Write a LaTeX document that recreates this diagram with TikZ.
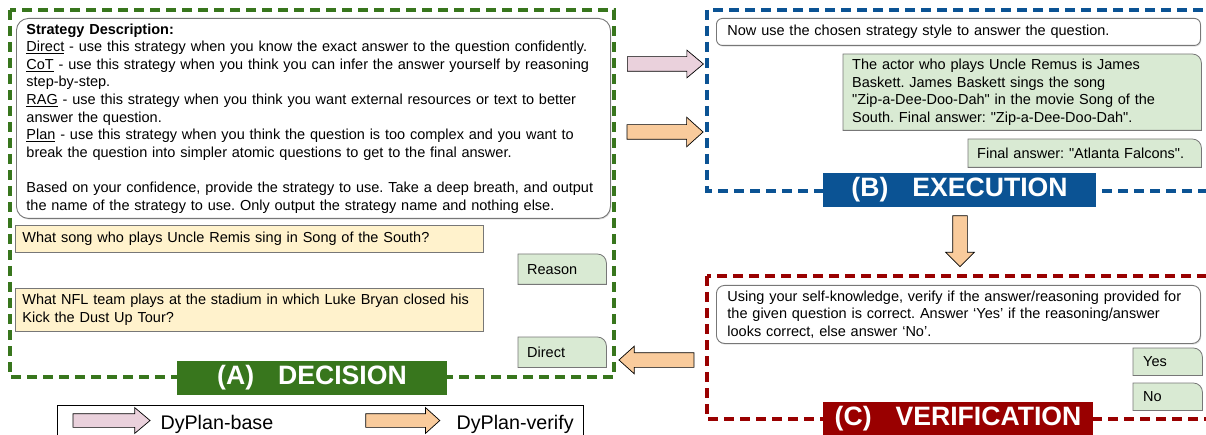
\documentclass[tikz,border=0pt]{standalone}
\usepackage{fontspec}
\setmainfont{Liberation Sans}
\usetikzlibrary{shapes.arrows,shadows,backgrounds}

\definecolor{decgreen}{HTML}{38761D}
\definecolor{exeblue}{HTML}{0B5394}
\definecolor{verred}{HTML}{990000}
\definecolor{qyellow}{HTML}{FFF2CC}
\definecolor{replygreen}{HTML}{D9EAD3}
\definecolor{basepink}{HTML}{EAD1DC}
\definecolor{verifyorange}{HTML}{F9CB9C}
\definecolor{boxgray}{HTML}{777777}

\frenchspacing
\newcommand{\bodyfont}{\fontsize{14.5}{17.6}\selectfont}
\newcommand{\stagegap}{\hspace{24pt}}
\newcommand{\dq}{\textquotedbl}
% chat bubble: only the top right corner is round
\newcommand{\bubble}[1]{%
	\draw[replyfill] (#1.south west) -- (#1.north west) -- ([xshift=-9pt]#1.north east)
		arc[start angle=90, end angle=0, radius=9pt] -- (#1.south east) -- cycle;}

\tikzset{
	stageframe/.style={dash pattern=on 10pt off 6pt, line width=3.3pt},
	stagelabel/.style={fill=#1, text=white, font=\fontsize{26.6}{30}\selectfont\bfseries,
		minimum height=34pt, inner sep=0pt},
	promptbox/.style={draw=boxgray, fill=white, rounded corners=#1, line width=0.9pt,
		drop shadow={shadow xshift=0.8pt, shadow yshift=-1.2pt, opacity=0.25},
		anchor=north west, align=left, font=\bodyfont, inner ysep=0pt, inner xsep=11pt},
	questionbox/.style={draw=boxgray, fill=qyellow, line width=0.8pt, anchor=north west,
		align=left, font=\bodyfont, inner ysep=0pt, inner xsep=7pt},
	replybox/.style={anchor=north west, align=left, font=\bodyfont, inner ysep=0pt, inner xsep=9pt},
	replyfill/.style={draw=boxgray, fill=replygreen, line width=0.8pt},
	blockarrow/.style={single arrow, draw=black, line width=0.7pt, inner xsep=0pt, inner ysep=7pt,
		single arrow head indent=0pt},
	basearrow/.style={blockarrow, fill=basepink},
	verifyarrow/.style={blockarrow, fill=verifyorange},
}

\begin{document}
\begin{tikzpicture}[x=1pt, y=-1pt]
	\useasboundingbox (0,0) rectangle (1206,435);

	% (A) decision
	\draw[stageframe, decgreen] (10,10) rectangle (614,377);
	\node[promptbox=12pt, minimum width=594pt, minimum height=200pt, text width=574pt, inner xsep=10pt] (strategy) at (16,18)
		{\textbf{Strategy Description:}\\
		\underline{Direct} - use this strategy when you know the exact answer to the question confidently.\\
		\underline{CoT} - use this strategy when you think you can infer the answer yourself by reasoning\\
		step-by-step.\\
		\underline{RAG} - use this strategy when you think you want external resources or text to better\\
		answer the question.\\
		\underline{Plan} - use this strategy when you think the question is too complex and you want to\\
		break the question into simpler atomic questions to get to the final answer.\\[17.6pt]
		Based on your confidence, provide the strategy to use. Take a deep breath, and output\\
		the name of the strategy to use. Only output the strategy name and nothing else.};
	\node[questionbox, minimum width=468pt, minimum height=27pt, text width=454pt] (qsong) at (15,225)
		{What song who plays Uncle Remis sing in Song of the South?};
	\node[replybox, minimum width=88pt, minimum height=30pt, text width=70pt] (reason) at (518,254) {Reason};
	\node[questionbox, minimum width=468pt, minimum height=43pt, text width=454pt] (qnfl) at (15,288)
		{What NFL team plays at the stadium in which Luke Bryan closed his\\
		Kick the Dust Up Tour?};
	\node[replybox, minimum width=88pt, minimum height=30pt, text width=70pt] (direct) at (518,337) {Direct};
	\node[stagelabel=decgreen, minimum width=270pt] (declabel) at (312,377.5) {(A)\stagegap DECISION};

	% (B) execution
	\draw[stageframe, exeblue] (707,10) rectangle (1214,191);
	\node[promptbox=6pt, minimum width=484pt, minimum height=27pt, text width=462pt] (execprompt) at (716,18)
		{Now use the chosen strategy style to answer the question.};
	\node[replybox, minimum width=358pt, minimum height=76pt, text width=340pt] (songans) at (843,54)
		{The actor who plays Uncle Remus is James\\
		Baskett. James Baskett sings the song\\
		\dq Zip-a-Dee-Doo-Dah\dq{} in the movie Song of the\\
		South. Final answer: \dq Zip-a-Dee-Doo-Dah\dq.};
	\node[replybox, minimum width=233pt, minimum height=28pt, text width=215pt] (nflans) at (968,139)
		{Final answer: \dq Atlanta Falcons\dq.};
	\node[stagelabel=exeblue, minimum width=273pt] (exelabel) at (959.5,190) {(B)\stagegap EXECUTION};

	% (C) verification
	\draw[stageframe, verred] (707,276) rectangle (1214,419);
	\node[promptbox=8pt, minimum width=484pt, minimum height=58pt, text width=462pt] (verprompt) at (716,285)
		{Using your self-knowledge, verify if the answer/reasoning provided for\\
		the given question is correct. Answer ‘Yes’ if the reasoning/answer\\
		looks correct, else answer ‘No’.};
	\node[replybox, minimum width=69pt, minimum height=27pt, text width=49pt, inner xsep=10pt] (yes) at (1133,348) {Yes};
	\node[replybox, minimum width=69pt, minimum height=27pt, text width=49pt, inner xsep=10pt] (no) at (1133,383) {No};
	\node[stagelabel=verred, minimum width=270pt] (verlabel) at (958,419) {(C)\stagegap VERIFICATION};

	\begin{pgfonlayer}{background}
		\bubble{reason}
		\bubble{direct}
		\bubble{songans}
		\bubble{nflans}
		\bubble{yes}
		\bubble{no}
	\end{pgfonlayer}

	% flow arrows
	\node[basearrow, minimum height=76pt, single arrow head extend=6.5pt, single arrow tip angle=80] (todecbase) at (661,64) {};
	\node[verifyarrow, minimum height=76pt, single arrow head extend=7.5pt, single arrow tip angle=84] (todecver) at (661,132) {};
	\node[verifyarrow, rotate=-90, minimum height=51pt, single arrow head extend=7pt, single arrow tip angle=90] (toverify) at (960,237.5) {};
	\node[verifyarrow, rotate=180, minimum height=75pt, single arrow head extend=6.5pt, single arrow tip angle=84] (backtodec) at (660.5,360) {};

	% legend
	\draw[line width=0.9pt] (57,405) rectangle (583,442);
	\node[basearrow, inner ysep=6.5pt, minimum height=77pt, single arrow head extend=6pt, single arrow tip angle=80] (legbase) at (107.5,420.5) {};
	\node[anchor=base west, font=\fontsize{19.7}{22}\selectfont] (legbasetext) at (157,429) {DyPlan-base};
	\node[verifyarrow, inner ysep=6.5pt, minimum height=74pt, single arrow head extend=6pt, single arrow tip angle=84] (legver) at (399,420.5) {};
	\node[anchor=base west, font=\fontsize{19.7}{22}\selectfont] (legvertext) at (453,429) {DyPlan-verify};
\end{tikzpicture}
\end{document}
